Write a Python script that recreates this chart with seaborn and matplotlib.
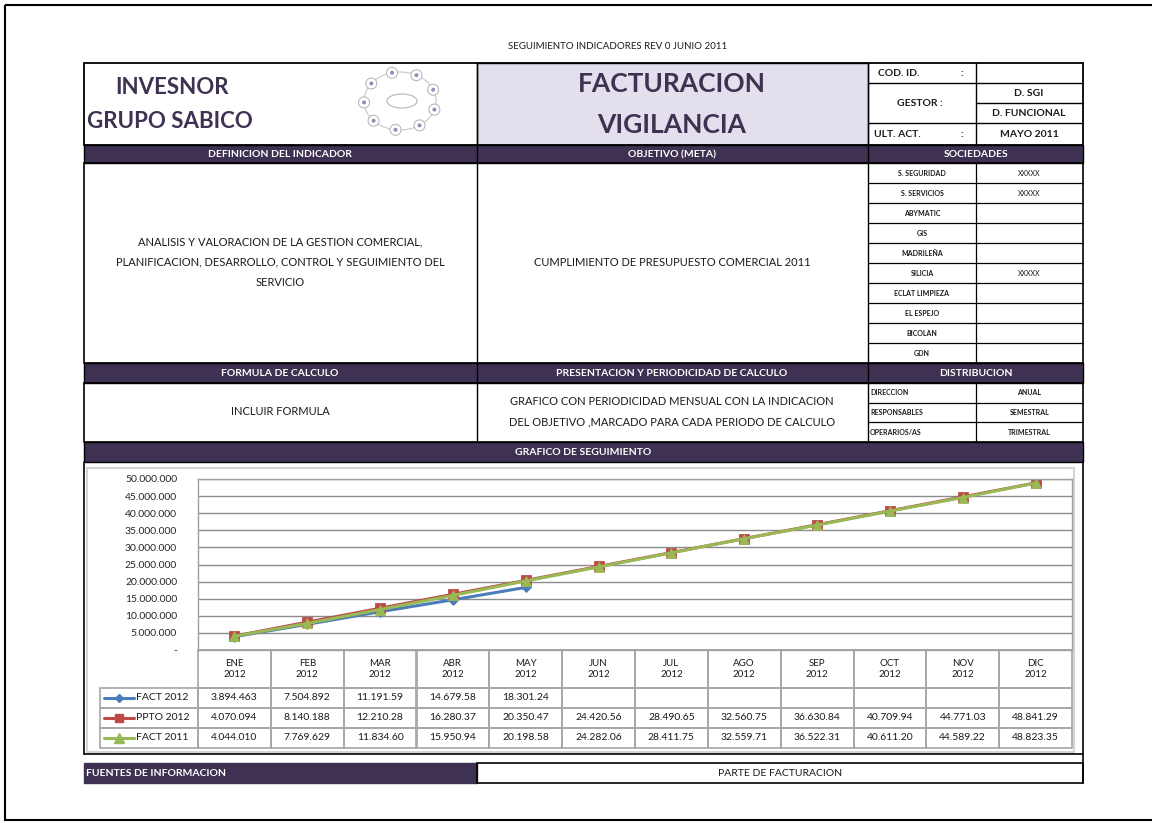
import matplotlib
matplotlib.use("Agg")
import matplotlib.pyplot as plt
from matplotlib.patches import Rectangle, Ellipse, Circle
from matplotlib.lines import Line2D
import seaborn as sns
import pandas as pd
import numpy as np

# datos
MESES = ["ENE", "FEB", "MAR", "ABR", "MAY", "JUN", "JUL", "AGO", "SEP", "OCT", "NOV", "DIC"]
ANIO = "2012"
SERIES = ["FACT 2012", "PPTO 2012", "FACT 2011"]
FACT_2012 = [3894463, 7504892, 11191590, 14679580, 18301240]
PPTO_2012 = [4070094, 8140188, 12210280, 16280370, 20350470, 24420560,
             28490650, 32560750, 36630840, 40709940, 44771030, 48841290]
FACT_2011 = [4044010, 7769629, 11834600, 15950940, 20198580, 24282060,
             28411750, 32559710, 36522310, 40611200, 44589220, 48823350]
Y_TICKS = list(range(0, 50_000_001, 5_000_000))

SOCIEDADES = ["S. SEGURIDAD", "S. SERVICIOS", "ABYMATIC", "GIS", "MADRILEÑA",
              "SILICIA", "ECLAT LIMPIEZA", "EL ESPEJO", "BICOLAN", "GDN"]
SOC_MARCA = ["XXXXX", "XXXXX", "", "", "", "XXXXX", "", "", "", ""]
DISTRIBUCION = ["DIRECCION", "RESPONSABLES", "OPERARIOS/AS"]
PERIODOS = ["ANUAL", "SEMESTRAL", "TRIMESTRAL"]

COLORES = ["#4a7ebb", "#be4b48", "#98b954"]
MARCAS = ["D", "s", "^"]
TAM_MARCA = [5, 7, 7.5]
MORADO = "#3f3151"
LILA = "#e4dfec"
GRIS = "#a6a6a6"

sns.set_style("white")
plt.rcParams["font.family"] = ["Lato", "DejaVu Sans"]

W, H = 1152, 823
fig = plt.figure(figsize=(W / 100, H / 100), dpi=100)
bg = fig.add_axes([0, 0, 1, 1])
bg.set_xlim(0, W)
bg.set_ylim(H, 0)
bg.axis("off")


def caja(x0, y0, x1, y1, fc="none", ec="black", lw=1.0, z=1):
    bg.add_patch(Rectangle((x0, y0), x1 - x0, y1 - y0, facecolor=fc,
                           edgecolor=ec, linewidth=lw, zorder=z))


def txt(x, y, s, size=7.5, bold=False, color="#1a1a1a", ha="center", **kw):
    bg.text(x, y, s, fontsize=size, fontweight="bold" if bold else "normal",
            color=color, ha=ha, va="center", zorder=5, **kw)


def miles(v):
    return f"{v:,.0f}".replace(",", ".")


# marco de pagina
caja(5, 5, 1170, 820, lw=1.5)
txt(618, 46, "SEGUIMIENTO INDICADORES REV 0 JUNIO 2011", size=7)

X0, XM1, XM2, XR, X1 = 84, 477, 868, 976, 1083

# cabecera
caja(XM1, 63, XM2, 145, fc=LILA)
caja(X0, 63, X1, 145, lw=1.3)
bg.plot([XM1, XM1], [63, 145], color="black", lw=1)
bg.plot([XM2, XM2], [63, 145], color="black", lw=1)
txt(115, 87, "INVESNOR", size=16, bold=True, color=MORADO, ha="left")
txt(87, 121, "GRUPO SABICO", size=16, bold=True, color=MORADO, ha="left")
txt(672, 84, "FACTURACION", size=19, bold=True, color=MORADO)
txt(672, 125, "VIGILANCIA", size=19, bold=True, color=MORADO)

# logo
bg.add_patch(Ellipse((400, 101), 72, 58, fill=False, ec="#c8c8c8", lw=0.8))
bg.add_patch(Ellipse((402, 101), 30, 14, fill=False, ec="#b5b5b5", lw=0.8))
for ang in np.linspace(0, 2 * np.pi, 10)[:-1]:
    cx = 400 + 36 * np.cos(ang + 0.3)
    cy = 101 + 29 * np.sin(ang + 0.3)
    bg.add_patch(Circle((cx, cy), 5.5, fc="white", ec="#b0b0b0", lw=0.7, zorder=3))
    bg.add_patch(Circle((cx, cy), 2, fc="#9b8bb4", ec="none", zorder=4))

# columna derecha de la cabecera
for y in [83, 123]:
    bg.plot([XM2, X1], [y, y], color="black", lw=1)
bg.plot([XR, X1], [103, 103], color="black", lw=1)
bg.plot([XR, XR], [63, 145], color="black", lw=1)
txt(878, 73, "COD. ID.", size=7.5, bold=True, ha="left")
txt(962, 73, ":", size=7.5, bold=True)
txt(920, 103, "GESTOR :", size=7.5, bold=True)
txt(1029, 93, "D. SGI", size=7.5, bold=True)
txt(1029, 113, "D. FUNCIONAL", size=7.5, bold=True)
txt(874, 134, "ULT. ACT.", size=7.5, bold=True, ha="left")
txt(962, 134, ":", size=7.5, bold=True)
txt(1029, 134, "MAYO 2011", size=7.5, bold=True)

# barras moradas
for y0, y1, titulos in [
    (145, 163, [(280, "DEFINICION DEL INDICADOR"), (672, "OBJETIVO (META)"), (976, "SOCIEDADES")]),
    (363, 383, [(280, "FORMULA DE CALCULO"), (672, "PRESENTACION Y PERIODICIDAD DE CALCULO"),
                (976, "DISTRIBUCION")]),
    (442, 462, [(583, "GRAFICO DE SEGUIMIENTO")]),
]:
    caja(X0, y0, X1, y1, fc=MORADO, lw=1)
    for x, s in titulos:
        txt(x, (y0 + y1) / 2 + 0.5, s, size=7.5, bold=True, color="white")
    if len(titulos) > 1:
        bg.plot([XM1, XM1], [y0, y1], color="black", lw=1)
        bg.plot([XM2, XM2], [y0, y1], color="black", lw=1)

# definicion / objetivo / sociedades
caja(X0, 163, X1, 363, lw=1.2)
bg.plot([XM1, XM1], [163, 363], color="black", lw=1)
bg.plot([XM2, XM2], [163, 363], color="black", lw=1)
txt(280, 242, "ANALISIS Y VALORACION DE LA GESTION COMERCIAL,", size=8)
txt(280, 262, "PLANIFICACION, DESARROLLO, CONTROL Y SEGUIMIENTO DEL", size=8)
txt(280, 282, "SERVICIO", size=8)
txt(672, 263, "CUMPLIMIENTO DE PRESUPUESTO COMERCIAL 2011", size=8)
fila = 200 / len(SOCIEDADES)
for i, (soc, marca) in enumerate(zip(SOCIEDADES, SOC_MARCA)):
    y0 = 163 + i * fila
    bg.plot([XM2, X1], [y0 + fila, y0 + fila], color="black", lw=0.9)
    txt((XM2 + XR) / 2, y0 + fila / 2, soc, size=5, bold=True)
    if marca:
        txt((XR + X1) / 2, y0 + fila / 2, marca, size=5)
bg.plot([XR, XR], [163, 363], color="black", lw=0.9)

# formula / presentacion / distribucion
caja(X0, 383, X1, 442, lw=1.2)
bg.plot([XM1, XM1], [383, 442], color="black", lw=1)
bg.plot([XM2, XM2], [383, 442], color="black", lw=1)
txt(280, 411, "INCLUIR FORMULA", size=8)
txt(672, 401, "GRAFICO CON PERIODICIDAD MENSUAL CON LA INDICACION", size=8)
txt(672, 422, "DEL OBJETIVO ,MARCADO PARA CADA PERIODO DE CALCULO", size=8)
fila = 59 / len(DISTRIBUCION)
for i, (d, p) in enumerate(zip(DISTRIBUCION, PERIODOS)):
    y0 = 383 + i * fila
    if i:
        bg.plot([XM2, X1], [y0, y0], color="black", lw=0.9)
    txt(870, y0 + fila / 2, d, size=5, bold=True, ha="left")
    txt((XR + X1) / 2, y0 + fila / 2, p, size=5, bold=True)
bg.plot([XR, XR], [383, 442], color="black", lw=0.9)

# zona del grafico
bg.plot([X0, X0], [462, 754], color="black", lw=1.2)
bg.plot([X1, X1], [462, 783], color="black", lw=1.2)
bg.plot([X0, X1], [754, 754], color="black", lw=1.2)
caja(87, 468, 1074, 752, ec="#d4d4d4", lw=1.5)

# pie
caja(X0, 763, XM1, 783, fc=MORADO, ec=MORADO)
caja(XM1, 763, X1, 783, lw=1.2)
txt(86, 773, "FUENTES DE INFORMACION", size=7.5, bold=True, color="white", ha="left")
txt(780, 773, "PARTE DE FACTURACION", size=7.5)

# grafico de lineas
PL, PR, PT, PB = 198, 1072, 479, 650
ax = fig.add_axes([PL / W, 1 - PB / H, (PR - PL) / W, (PB - PT) / H])
ax.patch.set_alpha(0)

valores = [FACT_2012, PPTO_2012, FACT_2011]
df = pd.concat([
    pd.DataFrame({"mes": range(len(v)), "valor": v, "serie": s})
    for s, v in zip(SERIES, valores)
])
sns.lineplot(data=df, x="mes", y="valor", hue="serie", style="serie",
             hue_order=SERIES, style_order=SERIES,
             palette=dict(zip(SERIES, COLORES)),
             markers=dict(zip(SERIES, MARCAS)), dashes=False,
             linewidth=2.2, markeredgewidth=0.6,
             legend=False, ax=ax)
for ln, c, ms in zip(ax.get_lines(), COLORES, TAM_MARCA):
    ln.set_markeredgecolor(c)
    ln.set_markersize(ms)

ax.set_xlim(-0.5, len(MESES) - 0.5)
ax.set_ylim(0, Y_TICKS[-1])
ax.set_yticks(Y_TICKS)
ax.set_yticklabels(["-" if t == 0 else miles(t) for t in Y_TICKS], fontsize=7.5)
ax.set_xticks([])
ax.set_xlabel("")
ax.set_ylabel("")
ax.tick_params(axis="y", length=0, pad=15)
ax.yaxis.grid(True, color="#8c8c8c", lw=1)
ax.set_axisbelow(True)
for sp in ax.spines.values():
    sp.set_color("#a0a0a0")
    sp.set_linewidth(1)

# tabla de datos
colw = (PR - PL) / len(MESES)
TH, RH = 38, 20
for j, m in enumerate(MESES):
    x0 = PL + j * colw
    caja(x0, PB, x0 + colw, PB + TH, ec=GRIS, lw=1.2)
    txt(x0 + colw / 2, PB + TH / 2, f"{m}\n{ANIO}", size=7, linespacing=1.3)
for i, (s, v, c, mk, ms) in enumerate(zip(SERIES, valores, COLORES, MARCAS, TAM_MARCA)):
    y0 = PB + TH + i * RH
    caja(100, y0, PL, y0 + RH, ec=GRIS, lw=1.2)
    bg.add_line(Line2D([104, 119, 134], [y0 + RH / 2] * 3, color=c, lw=2.2,
                       marker=mk, markevery=[1], markersize=ms - 1,
                       markeredgecolor=c, zorder=6))
    txt(136, y0 + RH / 2, s, size=7.5, ha="left")
    for j in range(len(MESES)):
        x0 = PL + j * colw
        caja(x0, y0, x0 + colw, y0 + RH, ec=GRIS, lw=1.2)
        if j < len(v):
            txt(x0 + colw / 2, y0 + RH / 2, miles(v[j])[:9], size=7.5)

fig.savefig("out.png", dpi=100)
